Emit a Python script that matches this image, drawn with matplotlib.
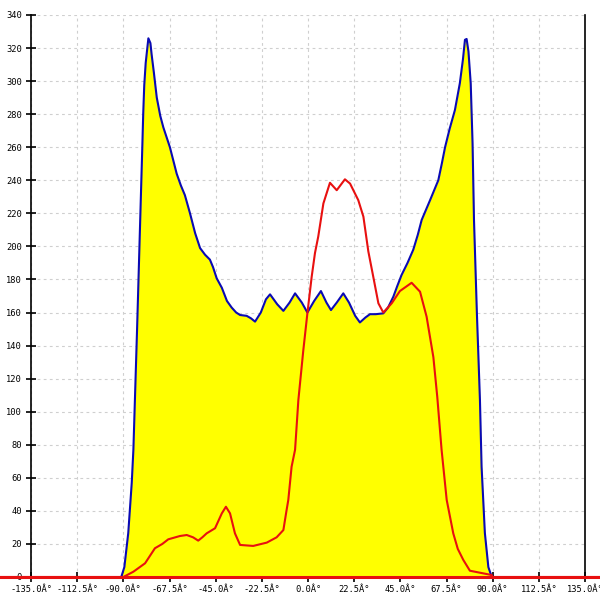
"""Angular distribution: blue envelope with yellow fill, red overlay."""

import matplotlib

matplotlib.use("Agg", force=True)
import matplotlib.pyplot as plt

# blue envelope (degrees, value)
blue_x = [-91.0, -89.5, -87.6, -85.9, -85.1, -83.3, -81.5, -80.7, -80.3, -79.8,
          -79.1, -77.8, -76.8, -76.2, -75.1, -73.7, -72.0, -70.5, -67.3, -64.0,
          -62.0, -60.0, -57.5, -55.0, -52.6, -50.2, -47.8, -46.3, -44.5, -42.0,
          -39.5, -37.2, -35.0, -33.1, -29.9, -27.8, -25.8, -23.0, -20.5, -18.5,
          -15.0, -12.0, -9.0, -6.3, -3.0, -0.3, 3.0, 6.3, 9.0, 11.2,
          14.0, 17.2, 20.0, 23.0, 25.3, 28.0, 30.2, 33.0, 36.7, 39.0,
          41.6, 43.5, 45.6, 48.5, 51.3, 53.5, 55.4, 59.5, 63.5, 65.2,
          66.8, 69.0, 71.6, 74.0, 75.5, 76.5, 77.3, 78.2, 79.3, 80.2,
          80.9, 82.3, 83.8, 84.6, 86.2, 87.9, 89.0, 90.0]
blue_y = [0, 6, 26.6, 57, 77, 150, 228, 262.5, 280.6, 297.6,
          311, 325.9, 323, 316, 305, 290, 279, 272, 260, 244,
          237, 231, 220, 208, 199, 195, 192, 187.5, 180.7, 175,
          167, 163, 160, 158.5, 158, 156.5, 154.5, 160, 168, 171,
          165, 161, 166, 171.6, 166, 160, 167, 173, 166, 161.5,
          166, 171.6, 166, 158, 154, 157, 159, 159, 159.5, 163,
          169.6, 176, 182.7, 190, 198, 207, 216, 228, 240, 250,
          260, 271, 282.5, 298.7, 313, 325, 325.5, 318, 298.7, 262.5,
          216, 160, 107, 66.7, 26.6, 6, 2, 0]

# red overlay
red_x = [-180.0, -90.0, -85.1, -79.4, -74.6, -71.0, -68.1, -62.4, -59.1, -56.0,
         -53.5, -51.5, -49.4, -45.3, -42.0, -40.0, -38.0, -35.6, -33.1, -26.7,
         -20.1, -15.3, -12.0, -10.5, -9.6, -8.0, -6.3, -4.7, -2.3, -0.3,
         1.8, 3.4, 5.0, 7.5, 10.7, 14.0, 18.0, 20.5, 24.5, 27.0,
         29.4, 31.8, 34.3, 36.7, 40.8, 44.8, 50.5, 54.6, 57.8, 61.1,
         63.0, 65.1, 67.6, 70.8, 73.0, 75.7, 78.9, 85.4, 89.5, 90.0, 180.0]
red_y = [0, 0, 3.2, 8.3, 17.4, 20, 22.8, 24.8, 25.4, 24,
         22, 24, 26.4, 29.5, 38.5, 42.5, 38.5, 26.4, 19.4, 18.8,
         20.8, 24, 28.4, 40, 46.6, 66.7, 77, 107, 137, 159.5,
         181.7, 196, 206, 226, 238.5, 234, 240.6, 238, 228, 218,
         197, 181.7, 165.6, 160, 165.6, 173, 178, 172.6, 157.5, 133,
         109, 77, 46.6, 26.4, 17, 10.3, 3.8, 2.2, 1.2, 0, 0]

x_ticks = [-135.0, -112.5, -90.0, -67.5, -45.0, -22.5, 0.0, 22.5, 45.0, 67.5, 90.0, 112.5, 135.0]
x_labels = [f"{v:.1f}Â°" for v in x_ticks]
y_ticks = list(range(0, 341, 20))

fig = plt.figure(figsize=(6, 6), dpi=100)
ax = fig.add_axes([31 / 600, 23 / 600, 554 / 600, 562 / 600])

ax.fill_between(blue_x, blue_y, 0, color="#ffff00", lw=0, zorder=2)
ax.plot(blue_x, blue_y, color="#0a0ab4", lw=1.5, zorder=3)
ax.plot(red_x, red_y, color="#e81010", lw=1.5, zorder=4, clip_on=False)

ax.set_xlim(-135, 135)
ax.set_ylim(0, 340)
ax.set_xticks(x_ticks)
ax.set_xticklabels(x_labels)
ax.set_yticks(y_ticks)
ax.grid(True, color="#cfcfcf", ls=(0, (2.5, 3)), lw=0.8, zorder=1)

for lab in ax.get_xticklabels() + ax.get_yticklabels():
    lab.set_family("DejaVu Sans Mono")
    lab.set_fontsize(6.3)
ax.tick_params(direction="inout", length=7, width=1.2, pad=2)
ax.tick_params(axis="y", pad=3)

ax.spines["top"].set_visible(False)
for side in ("left", "right", "bottom"):
    ax.spines[side].set_linewidth(1.2)
    ax.spines[side].set_color("black")

# red baseline runs across the full figure width
fig.add_artist(plt.Line2D([0, 1], [23 / 600, 23 / 600], color="#e81010", lw=2.2,
                          transform=fig.transFigure, zorder=6))

fig.savefig("out.png", dpi=100)
